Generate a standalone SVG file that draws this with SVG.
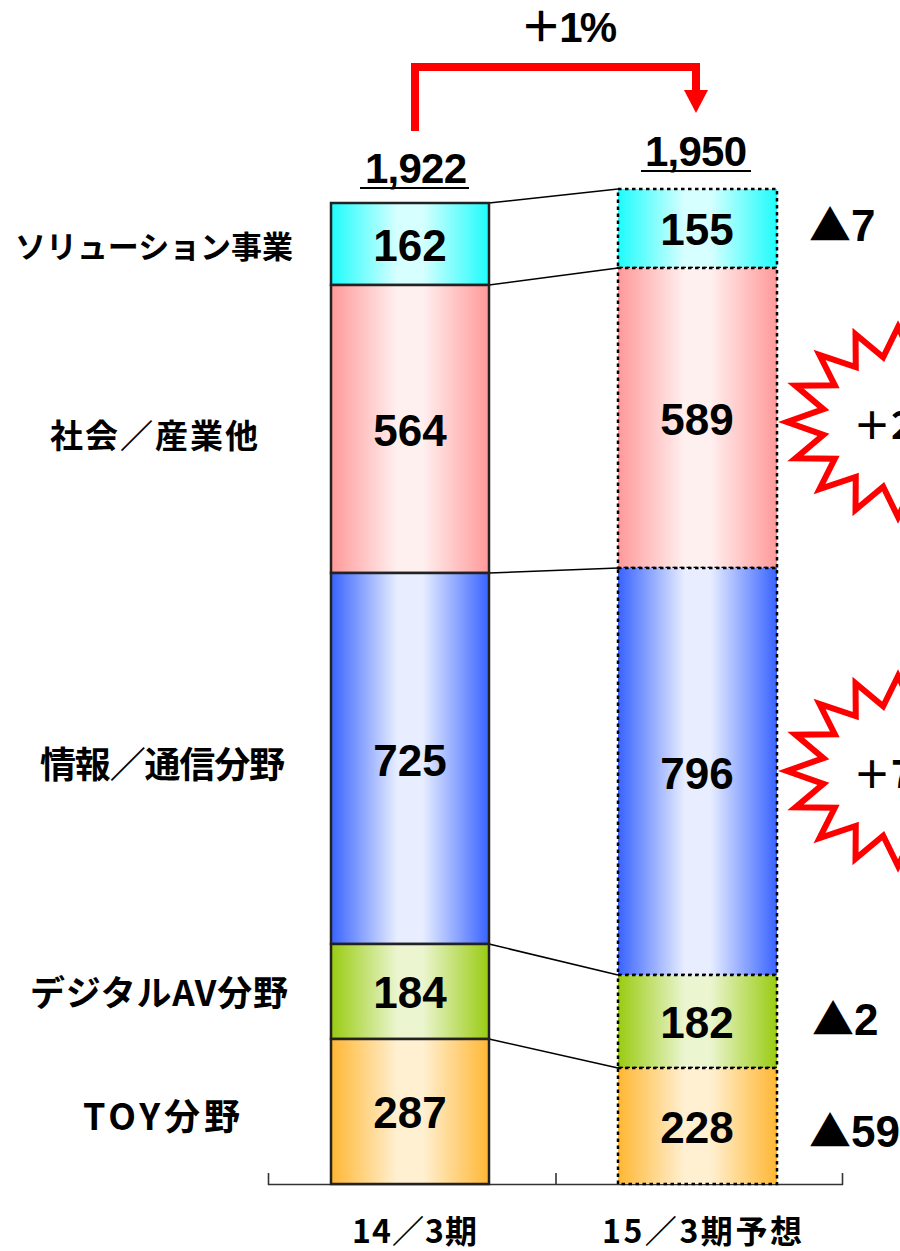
<svg xmlns="http://www.w3.org/2000/svg" width="900" height="1251" viewBox="0 0 900 1251">
<style>
.v{font-family:"Liberation Sans",Arial,sans-serif;font-weight:bold;font-size:44px;text-anchor:middle;fill:#000}
.tot{font-family:"Liberation Sans",Arial,sans-serif;font-weight:bold;font-size:42px;fill:#000}
.lab{font-family:"Noto Sans CJK JP",sans-serif;font-weight:bold;fill:#000}
.tri{font-family:"Liberation Sans",Arial,sans-serif;font-weight:bold;font-size:44px;fill:#000}
.tri .t{font-family:"Noto Sans CJK JP",sans-serif;font-size:42px}
.l{stroke:#222;stroke-width:2.5}
.r{stroke:#000;stroke-width:2.5;stroke-dasharray:3.5 3.5}
.con line{stroke:#000;stroke-width:1.6}
.star{fill:#fff;stroke:#ff0000;stroke-width:6;stroke-linejoin:miter}
</style>
<defs>
<linearGradient id="gC" x1="0" x2="1" y1="0" y2="0"><stop offset="0" stop-color="#1ffcfc"/><stop offset="0.42" stop-color="#d6ffff"/><stop offset="0.58" stop-color="#d6ffff"/><stop offset="1" stop-color="#1ffcfc"/></linearGradient>
<linearGradient id="gP" x1="0" x2="1" y1="0" y2="0"><stop offset="0" stop-color="#ff9999"/><stop offset="0.42" stop-color="#fff0f0"/><stop offset="0.58" stop-color="#fff0f0"/><stop offset="1" stop-color="#ff9999"/></linearGradient>
<linearGradient id="gB" x1="0" x2="1" y1="0" y2="0"><stop offset="0" stop-color="#3863ff"/><stop offset="0.42" stop-color="#e8eeff"/><stop offset="0.58" stop-color="#e8eeff"/><stop offset="1" stop-color="#3863ff"/></linearGradient>
<linearGradient id="gG" x1="0" x2="1" y1="0" y2="0"><stop offset="0" stop-color="#99cc11"/><stop offset="0.42" stop-color="#ebf5d0"/><stop offset="0.58" stop-color="#ebf5d0"/><stop offset="1" stop-color="#99cc11"/></linearGradient>
<linearGradient id="gO" x1="0" x2="1" y1="0" y2="0"><stop offset="0" stop-color="#ffb733"/><stop offset="0.42" stop-color="#fff0d2"/><stop offset="0.58" stop-color="#fff0d2"/><stop offset="1" stop-color="#ffb733"/></linearGradient>
<path id="star16" class="star" d="M111,0 L74.54,-12.88 L102.55,-36.36 L63.19,-36.67 L78.49,-67.17 L42.23,-54.88 L42.48,-87.77 L14.83,-64.73 L0,-95 L-14.83,-64.73 L-42.48,-87.77 L-42.23,-54.88 L-78.49,-67.17 L-63.19,-36.67 L-102.55,-36.36 L-74.54,-12.88 L-111,0 L-74.54,12.88 L-102.55,36.36 L-63.19,36.67 L-78.49,67.17 L-42.23,54.88 L-42.48,87.77 L-14.83,64.73 L0,95 L14.83,64.73 L42.48,87.77 L42.23,54.88 L78.49,67.17 L63.19,36.67 L102.55,36.36 L74.54,12.88 Z"/>
</defs>
<rect width="900" height="1251" fill="#fff"/>

<!-- axis -->
<g id="axis" stroke="#333" stroke-width="1.6" fill="none">
<line x1="268" y1="1184.5" x2="843" y2="1184.5"/>
<line x1="268.5" y1="1173" x2="268.5" y2="1185"/>
<line x1="556" y1="1173" x2="556" y2="1185"/>
<line x1="842.5" y1="1173" x2="842.5" y2="1185"/>
</g>

<!-- connectors -->
<g id="connectors" class="con">
<line x1="489" y1="203" x2="618" y2="189"/>
<line x1="489" y1="285" x2="618" y2="268"/>
<line x1="489" y1="573" x2="618" y2="568"/>
<line x1="489" y1="944" x2="618" y2="975"/>
<line x1="489" y1="1039" x2="618" y2="1068"/>
</g>

<!-- left bar 14/3 -->
<g id="l-sol"><rect class="l" x="331" y="203" width="158" height="82" fill="url(#gC)"/><text class="v" x="410" y="261">162</text></g>
<g id="l-soc"><rect class="l" x="331" y="285" width="158" height="288" fill="url(#gP)"/><text class="v" x="410" y="446">564</text></g>
<g id="l-info"><rect class="l" x="331" y="573" width="158" height="371" fill="url(#gB)"/><text class="v" x="410" y="776">725</text></g>
<g id="l-av"><rect class="l" x="331" y="944" width="158" height="95" fill="url(#gG)"/><text class="v" x="410" y="1008">184</text></g>
<g id="l-toy"><rect class="l" x="331" y="1039" width="158" height="145" fill="url(#gO)"/><text class="v" x="410" y="1128">287</text></g>

<!-- right bar 15/3 -->
<g id="r-sol"><rect class="r" x="618" y="189" width="159" height="79" fill="url(#gC)"/><text class="v" x="697" y="245">155</text></g>
<g id="r-soc"><rect class="r" x="618" y="268" width="159" height="300" fill="url(#gP)"/><text class="v" x="697" y="435">589</text></g>
<g id="r-info"><rect class="r" x="618" y="568" width="159" height="407" fill="url(#gB)"/><text class="v" x="697" y="789">796</text></g>
<g id="r-av"><rect class="r" x="618" y="975" width="159" height="93" fill="url(#gG)"/><text class="v" x="697" y="1038">182</text></g>
<g id="r-toy"><rect class="r" x="618" y="1068" width="159" height="116" fill="url(#gO)"/><text class="v" x="697" y="1143">228</text></g>

<!-- totals -->
<g id="total-left"><text class="tot" x="416" y="183" text-anchor="middle" textLength="102">1,922</text><line x1="360" y1="188" x2="469" y2="188" stroke="#000" stroke-width="2"/></g>
<g id="total-right"><text class="tot" x="696" y="166" text-anchor="middle" textLength="102">1,950</text><line x1="641" y1="171" x2="751" y2="171" stroke="#000" stroke-width="2"/></g>

<!-- growth arrow -->
<g id="growth-arrow">
<path d="M415,131 V67 H696 V91" fill="none" stroke="#ff0000" stroke-width="8" stroke-linejoin="miter"/>
<polygon points="684,90 708,90 696,113" fill="#ff0000"/>
<text x="520" y="42" font-family="Liberation Sans,'Noto Sans CJK JP',sans-serif" font-weight="bold" font-size="42" textLength="97">＋1%</text>
</g>

<!-- category labels -->
<g id="lab-sol"><text class="lab" x="15" y="258" font-size="31" textLength="278">ソリューション事業</text></g>
<g id="lab-soc"><text class="lab" x="50" y="448" font-size="33" textLength="208">社会／産業他</text></g>
<g id="lab-info"><text class="lab" x="40" y="778" font-size="36" textLength="245">情報／通信分野</text></g>
<g id="lab-av"><text class="lab" x="30" y="1006" font-size="35" textLength="258">デジタルAV分野</text></g>
<g id="lab-toy"><text class="lab" x="83" y="1130" font-size="36" textLength="157">TOY分野</text></g>

<!-- x axis labels -->
<g id="x-1403"><text class="lab" x="352" y="1243" font-size="32" textLength="125">14／3期</text></g>
<g id="x-1503"><text class="lab" x="602" y="1243" font-size="32" textLength="200">15／3期予想</text></g>

<!-- differences -->
<g id="d-sol"><text class="tri" x="809" y="241"><tspan class="t">▲</tspan>7</text></g>
<g id="d-av"><text class="tri" x="812" y="1035"><tspan class="t">▲</tspan>2</text></g>
<g id="d-toy"><text class="tri" x="809" y="1147"><tspan class="t">▲</tspan>59</text></g>

<!-- stars -->
<g id="star-soc"><use href="#star16" x="898" y="422"/><text class="lab" x="853" y="439" font-size="38">＋2</text></g>
<g id="star-info"><use href="#star16" x="898" y="771"/><text class="lab" x="853" y="788" font-size="38">＋7</text></g>
</svg>
